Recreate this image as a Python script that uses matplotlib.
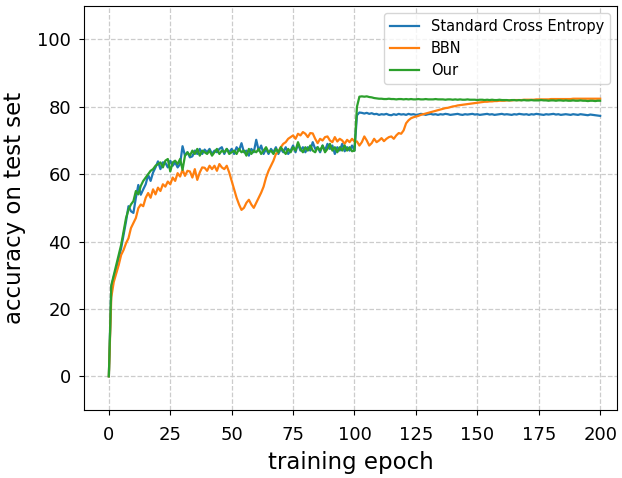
# accuracy_curves.py
# Test accuracy over training epochs for three methods.

import matplotlib
matplotlib.use("Agg")
import matplotlib.pyplot as plt

epochs = list(range(201))

# Standard Cross Entropy
sce = [
    0.0,
    26.5, 29.5, 32.0, 35.0, 38.0, 42.0, 46.0, 50.5, 49.0, 48.5,
    53.0, 56.8, 53.9, 55.5, 57.0, 59.8, 58.0, 60.5, 62.0, 63.8,
    61.5, 63.5, 63.4, 62.0, 64.0, 62.5, 63.5, 62.0, 63.0, 68.3,
    65.5, 66.5, 65.0, 65.3, 67.0, 66.0, 67.5, 66.0, 67.3, 66.5,
    67.5, 66.0, 67.0, 66.5, 67.5, 68.0, 66.0, 67.5, 66.5, 67.5,
    66.0, 68.0, 67.0, 69.2, 66.5, 67.0, 65.5, 67.5, 66.5, 70.2,
    67.0, 68.5, 66.0, 67.5, 66.0, 67.5, 66.5, 68.0, 66.0, 67.5,
    66.5, 68.0, 66.0, 67.0, 68.5, 66.5, 69.0, 67.0, 68.0, 66.5,
    68.0, 67.0, 69.5, 67.5, 68.0, 66.5, 68.5, 67.0, 69.0, 67.5,
    68.5, 66.0, 68.0, 67.0, 69.0, 66.8, 68.0, 67.0, 68.5, 67.0,
    77.5, 78.3, 78.2, 78.0, 78.2, 77.9, 78.1, 77.8, 77.9, 77.6,
    77.8, 77.7, 77.9, 77.6, 77.5, 77.8, 77.6, 77.9, 77.7, 77.8,
    77.6, 77.9, 77.7, 77.8, 77.6, 77.7, 77.9, 77.8, 77.6, 77.8,
    77.9, 77.7, 77.8, 77.6, 77.8, 77.7, 77.9, 77.8, 77.6, 77.7,
    77.8, 77.9, 77.7, 77.6, 77.8, 77.7, 77.8, 77.9, 77.7, 77.8,
    77.6, 77.7, 77.8, 77.9, 77.7, 77.8, 77.6, 77.7, 77.8, 77.9,
    77.7, 77.8, 77.7, 77.6, 77.8, 77.7, 77.9, 77.8, 77.7, 77.8,
    77.6, 77.8, 77.7, 77.9, 77.8, 77.7, 77.6, 77.8, 77.7, 77.8,
    77.9, 77.7, 77.8, 77.6, 77.7, 77.8, 77.7, 77.6, 77.8, 77.7,
    77.6, 77.8, 77.7, 77.6, 77.5, 77.7, 77.6, 77.5, 77.4, 77.3,
]

# BBN
bbn = [
    0.0,
    23.5, 28.0, 30.5, 33.0, 36.0, 37.5, 39.5, 41.0, 44.0, 45.5,
    47.0, 49.9, 51.0, 50.5, 53.0, 54.4, 53.0, 55.5, 54.0, 56.0,
    55.0, 57.0, 56.3, 57.8, 57.0, 59.0, 58.0, 60.3, 59.3, 61.3,
    59.5, 61.0, 60.8, 59.0, 61.5, 58.3, 60.5, 62.0, 61.9, 61.0,
    62.5, 61.5, 62.5, 61.0, 63.0, 62.0, 61.5, 62.5, 60.5, 58.0,
    55.5, 53.0, 51.0, 49.4, 50.0, 51.5, 52.4, 51.0, 50.0, 51.5,
    53.0, 54.5, 56.3, 59.0, 61.0, 62.5, 64.0, 66.0, 66.7, 68.0,
    69.0, 69.5, 70.5, 71.0, 71.5, 70.5, 72.0, 71.5, 72.5, 72.0,
    71.0, 72.2, 72.1, 70.5, 69.2, 70.5, 70.0, 71.0, 71.2, 70.0,
    69.5, 71.0, 69.7, 70.5, 70.0, 69.0, 70.2, 69.5, 70.5, 69.7,
    69.7, 68.5, 69.5, 71.2, 70.0, 68.5, 69.2, 70.5, 69.5, 70.0,
    70.7, 69.8, 70.5, 71.0, 71.2, 70.5, 71.5, 72.2, 72.0, 73.0,
    75.1, 76.0, 76.6, 76.9, 77.1, 77.3, 77.6, 77.8, 78.0, 78.2,
    78.4, 78.6, 78.8, 79.0, 79.2, 79.4, 79.6, 79.7, 79.9, 80.1,
    80.2, 80.4, 80.5, 80.6, 80.7, 80.8, 80.9, 81.0, 81.1, 81.2,
    81.3, 81.4, 81.5, 81.5, 81.6, 81.6, 81.7, 81.7, 81.8, 81.8,
    81.8, 81.9, 81.9, 81.9, 82.0, 82.0, 82.0, 82.0, 82.1, 82.1,
    82.1, 82.1, 82.1, 82.2, 82.2, 82.2, 82.2, 82.2, 82.2, 82.3,
    82.3, 82.3, 82.3, 82.3, 82.3, 82.3, 82.3, 82.3, 82.4, 82.4,
    82.4, 82.4, 82.4, 82.4, 82.4, 82.4, 82.4, 82.4, 82.4, 82.4,
]

# Our method
our = [
    0.0,
    27.0, 30.0, 33.0, 36.0, 39.0, 43.0, 47.0, 49.5, 51.0, 52.0,
    55.0, 54.0, 56.5, 58.0, 59.0, 60.0, 61.0, 61.5, 62.5, 63.0,
    63.5, 62.0, 64.0, 64.5, 60.8, 63.5, 64.0, 63.0, 64.5, 61.3,
    65.5, 66.5, 65.5, 67.0, 66.0, 67.5, 65.5, 67.0, 66.5, 66.0,
    67.0, 65.5, 66.5, 67.5, 66.0, 67.0, 66.5, 67.5, 66.0, 66.5,
    67.0, 66.0, 67.5, 66.5, 67.0, 65.5, 67.5, 66.0, 67.0, 66.5,
    67.5, 66.0, 67.0, 68.0, 66.5, 67.0, 66.0, 67.5, 66.5, 68.0,
    67.0, 66.0, 67.5, 66.5, 68.0, 67.0, 69.5, 67.5, 66.5, 68.0,
    67.0, 68.5, 67.0, 66.5, 68.0, 67.0, 68.5, 66.5, 67.5, 69.0,
    67.0, 68.0, 66.5, 68.0, 67.0, 68.5, 67.0, 68.0, 66.8, 67.0,
    80.0, 83.0, 83.1, 83.0, 83.1, 82.9, 82.8, 82.6, 82.5, 82.4,
    82.4, 82.3, 82.3, 82.4, 82.3, 82.3, 82.2, 82.3, 82.3, 82.2,
    82.3, 82.2, 82.3, 82.2, 82.2, 82.3, 82.2, 82.2, 82.3, 82.2,
    82.2, 82.2, 82.3, 82.2, 82.2, 82.2, 82.1, 82.2, 82.2, 82.1,
    82.2, 82.1, 82.2, 82.1, 82.1, 82.2, 82.1, 82.1, 82.1, 82.0,
    82.1, 82.1, 82.0, 82.1, 82.0, 82.1, 82.0, 82.0, 82.1, 82.0,
    82.0, 82.0, 81.9, 82.0, 82.0, 81.9, 82.0, 81.9, 82.0, 81.9,
    81.9, 82.0, 81.9, 81.9, 81.9, 82.0, 81.9, 81.9, 81.8, 81.9,
    81.9, 81.8, 81.9, 81.9, 81.8, 81.9, 81.8, 81.8, 81.9, 81.8,
    81.8, 81.9, 81.8, 81.8, 81.7, 81.8, 81.8, 81.7, 81.8, 81.8,
]

fig = plt.figure(figsize=(6.22, 4.78), dpi=100)
ax = fig.add_axes([0.1355, 0.1423, 0.857, 0.8457])

ax.plot(epochs, sce, label="Standard Cross Entropy", color="tab:blue", lw=1.6)
ax.plot(epochs, bbn, label="BBN", color="tab:orange", lw=1.6)
ax.plot(epochs, our, label="Our", color="tab:green", lw=1.6)

ax.set_xlim(-10, 207)
ax.set_ylim(-10, 110)
ax.set_xticks([0, 25, 50, 75, 100, 125, 150, 175, 200])
ax.set_yticks([0, 20, 40, 60, 80, 100])
ax.tick_params(axis="x", labelsize=13, pad=8)
ax.tick_params(axis="y", labelsize=13, pad=6)
ax.grid(True, linestyle="--", color="#cccccc", lw=0.9)

ax.set_xlabel("training epoch", fontsize=16.5, labelpad=5)
ax.set_ylabel("accuracy on test set", fontsize=16.5, labelpad=8)
ax.legend(loc="upper right", fontsize=10.5)

fig.savefig("out.png", dpi=100)
